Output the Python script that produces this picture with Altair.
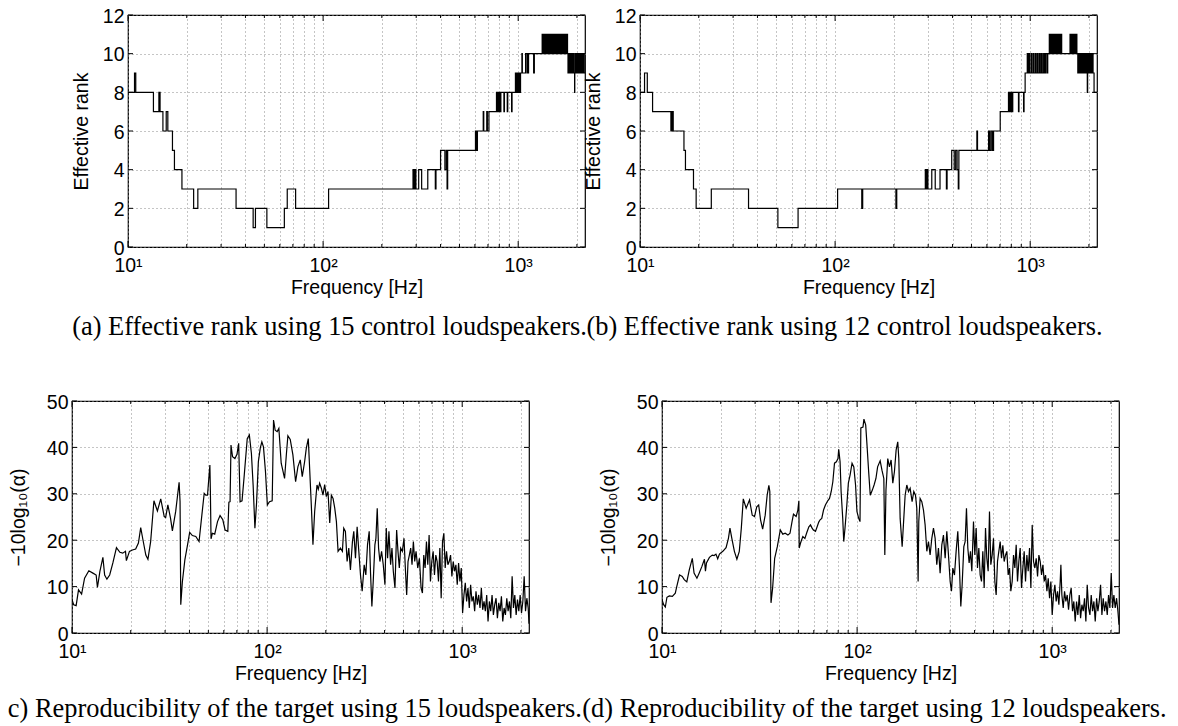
import altair as alt
import pandas as pd

# ---------------- data ----------------
x_grid_values = [10, 20, 30, 40, 50, 60, 70, 80, 90, 100, 200, 300, 400, 500,
                 600, 700, 800, 900, 1000, 2000]
x_tick_values = [10, 100, 1000]
x_tick_labels = ["10\u00b9", "10\u00b2", "10\u00b3"]
rank_ticks = [0, 2, 4, 6, 8, 10, 12]
repro_ticks = [0, 10, 20, 30, 40, 50]

captions = [
    "(a) Effective rank using 15 control loudspeakers.",
    "(b) Effective rank using 12 control loudspeakers.",
    "(c) Reproducibility of the target using 15 loudspeakers.",
    "(d) Reproducibility of the target using 12 loudspeakers.",
]

freq_a = [10, 10.8, 10.96, 13.5, 14.4, 14.6, 15.1, 15.7, 16.0, 16.9,
          17.3, 18.9, 21.7, 22.8, 35.8, 43.8, 45.0, 51.5, 63.3, 65.5,
          72.3, 106.7, 289, 292, 296, 299, 309, 320, 344, 376,
          379, 400, 421, 428, 432, 435, 604, 607, 611, 614,
          618, 662, 666, 690, 695, 708, 774, 778, 782, 786,
          790, 794, 798, 802, 806, 810, 815, 845, 850, 879,
          884, 925, 930, 968, 973, 983, 990, 1000, 1008, 1015,
          1020, 1028, 1045, 1050, 1091, 1110, 1115, 1125, 1130, 1200,
          1210, 1327, 1336, 1345, 1354, 1363, 1372, 1381, 1392, 1401,
          1411, 1420, 1430, 1440, 1450, 1460, 1480, 1485, 1495, 1500,
          1510, 1520, 1531, 1541, 1552, 1563, 1574, 1585, 1596, 1607,
          1619, 1630, 1642, 1654, 1666, 1678, 1690, 1702, 1714, 1727,
          1740, 1752, 1765, 1778, 1790, 1800, 1812, 1825, 1838, 1851,
          1864, 1877, 1890, 1903, 1917, 1930, 1946, 1950, 1960, 1974,
          1988, 2002, 2016, 2030, 2045, 2060, 2075, 2090, 2105, 2120,
          2135, 2150, 2165, 2180, 2200]
rank_a = [8, 9, 8, 7, 8, 7, 6, 7, 6, 5,
          4, 3, 2, 3, 2, 1, 2, 1, 2, 3,
          2, 3, 4, 3, 4, 3, 4, 3, 4, 3,
          4, 5, 4, 5, 3, 5, 6, 5, 6, 5,
          6, 7, 6, 7, 6, 7, 8, 7, 8, 7,
          8, 7, 8, 7, 8, 7, 8, 7, 8, 7,
          8, 7, 8, 9, 8, 9, 8, 9, 8, 9,
          8, 9, 10, 9, 10, 9, 10, 9, 10, 9,
          10, 11, 10, 11, 10, 11, 10, 11, 10, 11,
          10, 11, 10, 11, 10, 11, 10, 11, 10, 11,
          10, 11, 10, 11, 10, 11, 10, 11, 10, 11,
          10, 11, 10, 11, 10, 11, 10, 11, 10, 11,
          10, 11, 10, 11, 10, 9, 10, 9, 10, 9,
          10, 9, 10, 9, 10, 9, 8, 9, 10, 9,
          10, 9, 10, 9, 10, 9, 10, 9, 10, 9,
          10, 9, 10, 9, 9]

freq_b = [10, 10.55, 10.9, 11.6, 14.4, 14.6, 14.8, 16.8, 17.1, 18.8,
          19.4, 23.2, 36.0, 50.9, 64.6, 103, 137, 138.5, 205, 207,
          290, 293, 296, 299, 313, 326, 345, 372, 375, 396,
          408, 415, 422, 428, 431, 533, 537, 612, 620, 630,
          640, 649, 702, 774, 780, 786, 792, 798, 806, 814,
          871, 876, 925, 930, 942, 966, 972, 985, 992, 1010,
          1018, 1035, 1042, 1060, 1068, 1085, 1092, 1110, 1118, 1135,
          1142, 1160, 1168, 1185, 1200, 1205, 1225, 1230, 1253, 1262,
          1275, 1285, 1298, 1310, 1322, 1335, 1350, 1362, 1378, 1392,
          1406, 1420, 1436, 1450, 1600, 1615, 1630, 1645, 1660, 1675,
          1690, 1705, 1720, 1735, 1754, 1765, 1778, 1790, 1803, 1815,
          1828, 1840, 1853, 1866, 1880, 1893, 1906, 1920, 1934, 1948,
          1962, 1970, 1985, 2000, 2015, 2030, 2045, 2060, 2080, 2100,
          2125, 2200]
rank_b = [8, 9, 8, 7, 6, 7, 6, 5, 4, 3,
          2, 3, 2, 1, 2, 3, 2, 3, 2, 3,
          4, 3, 4, 3, 4, 3, 4, 3, 4, 5,
          4, 5, 4, 3, 5, 6, 5, 6, 5, 6,
          5, 6, 7, 8, 7, 8, 7, 8, 7, 8,
          7, 8, 7, 8, 9, 10, 9, 10, 9, 10,
          9, 10, 9, 10, 9, 10, 9, 10, 9, 10,
          9, 10, 9, 10, 9, 10, 9, 10, 11, 10,
          11, 10, 11, 10, 11, 10, 11, 10, 11, 10,
          11, 10, 11, 10, 11, 10, 11, 10, 11, 10,
          11, 10, 11, 10, 9, 10, 9, 10, 9, 10,
          9, 10, 9, 10, 9, 10, 9, 10, 9, 10,
          8, 9, 10, 9, 10, 9, 10, 9, 10, 9,
          8, 8]

freq_c = [10, 10.2, 10.5, 10.8, 11.2, 11.6, 12.2, 12.8, 13.3, 13.5,
          13.9, 14.4, 14.7, 15.1, 15.6, 16.2, 16.9, 17.6, 18.2, 18.8,
          19.0, 19.7, 20.4, 21.2, 21.9, 22.5, 23.1, 23.9, 24.5, 25.3,
          26.3, 27.4, 28.5, 29.7, 30.2, 31.0, 32.0, 32.7, 34.0, 35.4,
          35.8, 36.1, 36.8, 37.9, 39.1, 40.1, 41.4, 43.1, 44.8, 46.3,
          47.6, 48.5, 49.5, 50.9, 51.2, 51.6, 52.4, 53.9, 55.7, 57.4,
          59.3, 60.9, 62.9, 63.7, 64.6, 65.3, 66.5, 68.4, 70.1, 71.5,
          72.7, 74.4, 76.4, 79.1, 81.1, 83.1, 84.8, 86.6, 88.3, 90.2,
          92.3, 94.0, 95.8, 98.1, 100.3, 102.9, 106.2, 107.9, 110.0, 112.6,
          114.9, 118.1, 120.3, 122.9, 125.5, 127.8, 131.4, 135.6, 140.0, 143.8,
          147.9, 151.4, 155.7, 158.8, 162.6, 165.2, 168.5, 171.8, 175.3, 180.2,
          183.0, 185.9, 189.7, 193.4, 197.3, 201.2, 205.2, 209.4, 213.5, 217.8,
          222.2, 226.6, 231.1, 237.6, 243.2, 247.1, 252.0, 257.1, 262.2, 267.4,
          273.8, 278.2, 283.8, 289.4, 295.2, 301.1, 307.1, 314.5, 320.7, 327.1,
          333.7, 339.0, 344.4, 349.9, 356.9, 361.2, 366.9, 372.7, 378.7, 386.2,
          393.9, 401.7, 408.1, 414.6, 421.2, 429.6, 436.5, 443.5, 452.3, 461.3,
          468.6, 476.1, 483.7, 493.3, 503.2, 511.2, 519.3, 527.6, 536.0, 544.5,
          553.2, 562.0, 571.0, 580.1, 591.7, 603.5, 615.6, 625.4, 635.4, 645.5,
          655.8, 666.2, 676.8, 687.6, 698.6, 709.7, 721.0, 732.5, 744.2, 756.0,
          768.1, 780.3, 792.7, 805.4, 818.2, 831.2, 844.5, 857.9, 871.6, 885.5,
          899.6, 913.9, 928.5, 943.3, 958.3, 973.5, 989.0, 1004.8, 1020.8, 1037.1,
          1053.6, 1070.4, 1087.4, 1104.7, 1122.3, 1140.2, 1158.3, 1176.8, 1195.5, 1214.6,
          1233.9, 1253.6, 1273.5, 1293.8, 1314.4, 1335.4, 1356.6, 1378.2, 1400.2, 1422.5,
          1445.1, 1468.1, 1491.5, 1515.3, 1539.4, 1563.9, 1588.8, 1614.1, 1639.8, 1665.9,
          1692.5, 1719.4, 1746.8, 1774.6, 1802.9, 1831.6, 1860.7, 1890.4, 1920.5, 1951.0,
          1982.1, 2013.7, 2045.7, 2078.3, 2111.4, 2145.0, 2179.2, 2200]
level_c = [7.2, 6.1, 5.9, 9.3, 8.4, 11.8, 13.4, 12.9, 12.5, 9.8,
           13.3, 16.3, 12.5, 11.6, 12.5, 15.1, 18.4, 17.4, 17.2, 17.6,
           15.6, 17.6, 17.9, 18.1, 19.4, 22.7, 20.1, 16.8, 15.9, 19.7,
           28.5, 26.3, 28.9, 25.1, 24.9, 27.6, 24.7, 22.0, 26.2, 32.5,
           28.3, 6.1, 11.1, 15.8, 19.0, 21.7, 21.0, 20.8, 19.7, 25.4,
           30.1, 29.7, 29.7, 36.2, 30.5, 20.3, 21.5, 21.3, 24.0, 25.3,
           24.4, 22.2, 21.9, 28.2, 28.3, 40.5, 38.0, 37.6, 38.5, 40.9,
           28.3, 28.5, 34.1, 41.9, 42.7, 38.7, 31.9, 22.6, 28.0, 36.9,
           39.9, 41.2, 40.1, 34.8, 27.6, 28.3, 28.5, 45.9, 43.7, 43.4,
           44.1, 36.6, 35.1, 33.3, 38.4, 42.5, 41.7, 38.4, 32.6, 35.8,
           37.3, 33.7, 36.9, 39.8, 41.9, 35.5, 27.6, 19.0, 26.2, 31.9,
           31.0, 32.3, 31.2, 29.7, 32.0, 29.4, 30.5, 23.7, 29.7, 29.0,
           26.9, 24.0, 17.6, 18.3, 17.6, 22.6, 21.9, 15.4, 18.3, 13.6,
           19.7, 21.9, 16.1, 22.9, 17.6, 12.5, 9.0, 14.7, 12.5, 19.0,
           21.9, 12.9, 5.7, 11.1, 19.0, 20.4, 26.9, 18.3, 15.4, 17.6,
           14.7, 10.4, 22.6, 16.1, 21.9, 14.7, 18.3, 13.3, 9.7, 22.2,
           17.6, 14.0, 18.3, 17.6, 20.4, 14.0, 8.2, 15.4, 16.8, 18.3,
           14.7, 19.7, 15.4, 17.6, 14.0, 16.1, 9.7, 8.6, 16.8, 14.0,
           19.7, 14.7, 21.1, 11.1, 15.4, 17.6, 12.5, 16.8, 15.4, 11.1,
           18.3, 7.5, 19.7, 21.5, 14.0, 17.6, 14.7, 15.4, 16.8, 12.2,
           15.4, 13.3, 14.7, 10.4, 15.1, 11.1, 14.0, 4.3, 8.2, 10.8,
           6.8, 9.7, 5.4, 10.4, 6.8, 7.9, 4.7, 9.0, 6.1, 8.2,
           5.4, 9.7, 5.0, 6.8, 4.7, 8.2, 2.5, 6.8, 4.7, 8.2,
           3.9, 6.1, 7.5, 3.2, 6.5, 4.7, 7.9, 2.5, 5.4, 3.9,
           7.5, 4.7, 6.8, 3.2, 12.2, 5.4, 8.2, 3.9, 7.2, 4.7,
           8.2, 4.3, 6.8, 12.2, 4.7, 7.5, 5.4, 2.0]

freq_d = [10, 10.2, 10.4, 10.6, 10.9, 11.3, 11.7, 11.9, 12.3, 12.7,
          13.0, 13.4, 13.8, 14.3, 14.6, 15.1, 15.5, 16.0, 16.5, 16.7,
          16.9, 17.5, 18.1, 18.5, 18.9, 19.3, 19.7, 20.5, 21.3, 21.9,
          22.3, 22.8, 23.5, 24.2, 24.9, 25.5, 26.1, 27.0, 28.1, 29.0,
          29.8, 30.6, 31.3, 32.0, 32.8, 33.8, 34.6, 35.3, 35.7, 36.2,
          36.9, 37.8, 39.0, 40.4, 41.6, 42.8, 44.2, 45.3, 46.4, 47.2,
          48.7, 49.7, 50.3, 50.5, 51.3, 52.7, 54.0, 55.3, 56.6, 57.7,
          58.8, 59.7, 61.2, 62.4, 63.6, 64.6, 65.9, 67.3, 68.8, 70.7,
          72.2, 73.7, 75.1, 76.6, 78.3, 79.8, 80.5, 81.8, 82.8, 84.4,
          85.4, 86.7, 88.6, 90.2, 92.1, 94.2, 96.2, 98.2, 99.8, 101.9,
          103.5, 104.5, 107.2, 108.4, 110.7, 112.4, 114.6, 116.8, 119.7, 122.2,
          124.9, 127.4, 131.3, 134.1, 137.1, 138.7, 140.6, 143.6, 146.5, 149.4,
          152.4, 155.4, 158.5, 161.6, 163.6, 166.2, 170.2, 173.5, 176.3, 179.8,
          183.4, 187.0, 191.4, 195.3, 199.2, 202.3, 205.5, 207.1, 210.4, 214.6,
          218.9, 223.2, 227.7, 232.2, 236.7, 241.5, 246.3, 251.2, 256.1, 261.2,
          266.4, 271.8, 277.1, 282.7, 288.3, 294.0, 299.9, 304.6, 309.5, 315.6,
          321.8, 328.2, 334.8, 340.1, 345.5, 352.4, 357.9, 363.6, 369.4, 375.2,
          381.2, 387.3, 395.0, 401.3, 407.6, 414.1, 420.7, 427.4, 434.2, 441.0,
          448.1, 455.2, 462.3, 469.7, 477.1, 484.7, 492.4, 500.1, 508.2, 516.2,
          524.4, 532.7, 541.2, 549.8, 558.5, 567.4, 576.4, 585.5, 594.8, 604.3,
          613.8, 623.6, 633.5, 643.5, 653.8, 664.1, 674.7, 685.4, 696.2, 707.3,
          718.5, 729.9, 741.6, 753.3, 765.4, 777.5, 789.8, 802.4, 815.1, 828.0,
          841.3, 854.6, 868.3, 882.0, 896.0, 910.3, 924.7, 939.4, 954.2, 969.4,
          984.5, 1000, 1016, 1032, 1048, 1065, 1082, 1099, 1108, 1121,
          1139, 1157, 1175, 1194, 1213, 1232, 1251, 1271, 1291, 1312,
          1333, 1354, 1376, 1398, 1420, 1442, 1465, 1488, 1512, 1536,
          1561, 1585, 1610, 1636, 1662, 1689, 1715, 1742, 1770, 1798,
          1826, 1855, 1885, 1915, 1945, 1976, 2007, 2039, 2071, 2104,
          2138, 2172, 2200]
level_d = [7.2, 6.1, 5.6, 7.7, 8.0, 7.9, 8.6, 10.0, 12.5, 12.2,
           11.5, 11.0, 13.6, 16.1, 12.9, 11.8, 12.9, 14.3, 15.9, 13.3,
           15.1, 16.3, 16.8, 16.7, 17.0, 16.0, 17.0, 17.6, 18.4, 20.4,
           22.6, 20.4, 17.6, 15.9, 17.6, 22.6, 28.9, 26.9, 28.7, 25.4,
           25.1, 27.2, 27.6, 24.4, 22.4, 25.4, 29.7, 31.8, 30.5, 6.5,
           9.7, 16.1, 18.6, 22.2, 21.3, 21.5, 21.1, 21.5, 24.0, 25.6,
           25.1, 26.5, 28.5, 18.3, 19.4, 20.8, 20.4, 21.7, 22.9, 23.3,
           22.6, 22.2, 21.9, 22.9, 23.9, 24.4, 24.7, 26.5, 27.6, 28.5,
           29.0, 30.5, 32.6, 36.6, 36.9, 37.6, 39.6, 36.9, 30.5, 24.7,
           19.7, 22.6, 27.6, 32.3, 34.1, 36.6, 35.8, 31.9, 26.2, 24.7,
           24.0, 44.2, 44.4, 46.1, 44.8, 40.5, 34.8, 29.7, 30.8, 31.9,
           33.3, 35.8, 37.1, 35.1, 33.3, 16.8, 30.8, 37.6, 35.8, 37.3,
           32.3, 34.8, 39.4, 41.2, 37.6, 24.7, 18.6, 24.7, 29.7, 31.9,
           30.5, 31.2, 28.3, 30.5, 29.7, 26.9, 11.1, 24.0, 29.0, 28.3,
           26.5, 23.3, 17.6, 19.7, 16.8, 20.4, 22.6, 20.4, 14.7, 18.3,
           12.9, 19.0, 21.1, 16.1, 21.9, 16.8, 11.1, 9.0, 14.0, 12.5,
           17.6, 21.9, 14.0, 5.7, 10.4, 18.6, 19.7, 26.9, 18.3, 15.1,
           17.6, 13.3, 24.0, 16.8, 22.6, 14.0, 18.3, 12.5, 11.1, 17.6,
           9.7, 22.6, 16.1, 13.3, 26.2, 14.7, 16.8, 20.4, 11.1, 8.2,
           15.4, 17.6, 19.7, 16.1, 18.9, 15.4, 16.8, 17.6, 12.5, 14.0,
           9.0, 11.1, 16.8, 14.0, 19.0, 11.1, 15.4, 18.3, 9.7, 14.0,
           17.6, 11.1, 16.8, 13.3, 18.3, 9.7, 23.3, 15.4, 14.0, 16.1,
           12.2, 16.8, 15.4, 12.5, 14.7, 11.1, 12.5, 9.0, 11.8, 7.5,
           11.1, 3.9, 8.2, 10.4, 6.8, 9.0, 6.1, 11.1, 14.7, 8.2,
           5.4, 9.0, 6.8, 8.2, 5.0, 8.2, 9.7, 4.7, 6.8, 2.5,
           6.8, 3.9, 8.2, 3.2, 6.1, 4.7, 7.5, 2.5, 10.4, 5.4,
           3.9, 8.2, 4.7, 6.8, 2.5, 7.5, 4.7, 6.8, 10.4, 3.9,
           7.5, 4.7, 6.8, 3.9, 8.2, 5.4, 12.9, 5.4, 8.2, 5.4,
           7.5, 4.7, 1.8]

# ---------------- styling ----------------
SANS = "Liberation Sans"
SERIF = "Liberation Serif"
PW, PH = 457, 232

label_expr = " : ".join(
    f"datum.value == {v} ? '{t}'" for v, t in zip(x_tick_values, x_tick_labels)
) + " : ''"

common_axis = dict(
    labelFont=SANS, labelFontSize=19.5, labelColor="black",
    titleFont=SANS, titleFontSize=19.5, titleFontWeight="normal", titleColor="black",
    ticks=False, domain=False, grid=True, gridColor="#8a8a8a",
    gridDash=[1, 3], gridWidth=1, labelFlush=False, labelOverlap=False,
)

minor_x = pd.DataFrame({"f": [v for v in x_grid_values if v not in x_tick_values]})
major_x = pd.DataFrame({"f": x_tick_values})


def panel(freqs, vals, ytitle, ydomain, yticks, step, caption, cap_dx, cap_offset, ytitle_pad):
    df = pd.DataFrame({"f": freqs, "v": vals})
    x_scale = alt.Scale(type="log", domain=[10, 2200], nice=False)
    y_scale = alt.Scale(domain=ydomain, nice=False, zero=False)
    x = alt.X("f:Q", scale=x_scale,
              axis=alt.Axis(values=x_grid_values, labelExpr=label_expr,
                            title="Frequency [Hz]", labelPadding=9, titlePadding=4,
                            **common_axis))
    y = alt.Y("v:Q", scale=y_scale,
              axis=alt.Axis(values=yticks, title=ytitle, labelPadding=4,
                            labelOffset=1, titlePadding=ytitle_pad, **common_axis))
    line = alt.Chart(df).mark_line(
        color="black", strokeWidth=1.2, clip=True,
        interpolate="step-after" if step else "linear").encode(x=x, y=y)

    rule = dict(color="black", strokeWidth=1)
    ydf = pd.DataFrame({"v": yticks})
    layers = [
        line,
        alt.Chart(minor_x).mark_rule(**rule).encode(x=x, y=alt.value(PH), y2=alt.value(PH - 3)),
        alt.Chart(minor_x).mark_rule(**rule).encode(x=x, y=alt.value(0), y2=alt.value(3)),
        alt.Chart(major_x).mark_rule(**rule).encode(x=x, y=alt.value(PH), y2=alt.value(PH - 6)),
        alt.Chart(major_x).mark_rule(**rule).encode(x=x, y=alt.value(0), y2=alt.value(6)),
        alt.Chart(ydf).mark_rule(**rule).encode(y=y, x=alt.value(0), x2=alt.value(5)),
        alt.Chart(ydf).mark_rule(**rule).encode(y=y, x=alt.value(PW), x2=alt.value(PW - 5)),
    ]
    return alt.layer(*layers).properties(
        width=PW, height=PH,
        title=alt.TitleParams(text=caption, orient="bottom", anchor="middle",
                              frame="group", font=SERIF, fontSize=26.4,
                              fontWeight="normal", color="black", offset=cap_offset,
                              dx=cap_dx))


pa = panel(freq_a, rank_a, "Effective rank", [0, 12], rank_ticks, True,
           captions[0], -27, 17, 11)
pb = panel(freq_b, rank_b, "Effective rank", [0, 12], rank_ticks, True,
           captions[1], -24, 17, 11)
pc = panel(freq_c, level_c, "\u221210log\u2081\u2080(\u03b1)", [0, 50], repro_ticks, False,
           captions[2], -10, 13, 18)
pd_ = panel(freq_d, level_d, "\u221210log\u2081\u2080(\u03b1)", [0, 50], repro_ticks, False,
            captions[3], -16, 13, 18)

blank = alt.Chart(pd.DataFrame({"v": [0]})).mark_point(opacity=0).encode(
    x=alt.X("v:Q", axis=None), y=alt.Y("v:Q", axis=None)
).properties(width=1, height=PH, view=alt.ViewBackground(strokeOpacity=0))

row1 = alt.hconcat(blank, pa, pb, spacing=55, bounds="flush")
row2 = alt.hconcat(pc, pd_, spacing=133, bounds="flush")

chart = alt.vconcat(row1, row2, spacing=386, bounds="flush").properties(
    padding={"left": -10, "top": -3, "right": 0, "bottom": 2}
).configure_view(stroke="black", strokeWidth=1.2)

chart.save("out.html", embed_options={"renderer": "svg", "actions": False})
